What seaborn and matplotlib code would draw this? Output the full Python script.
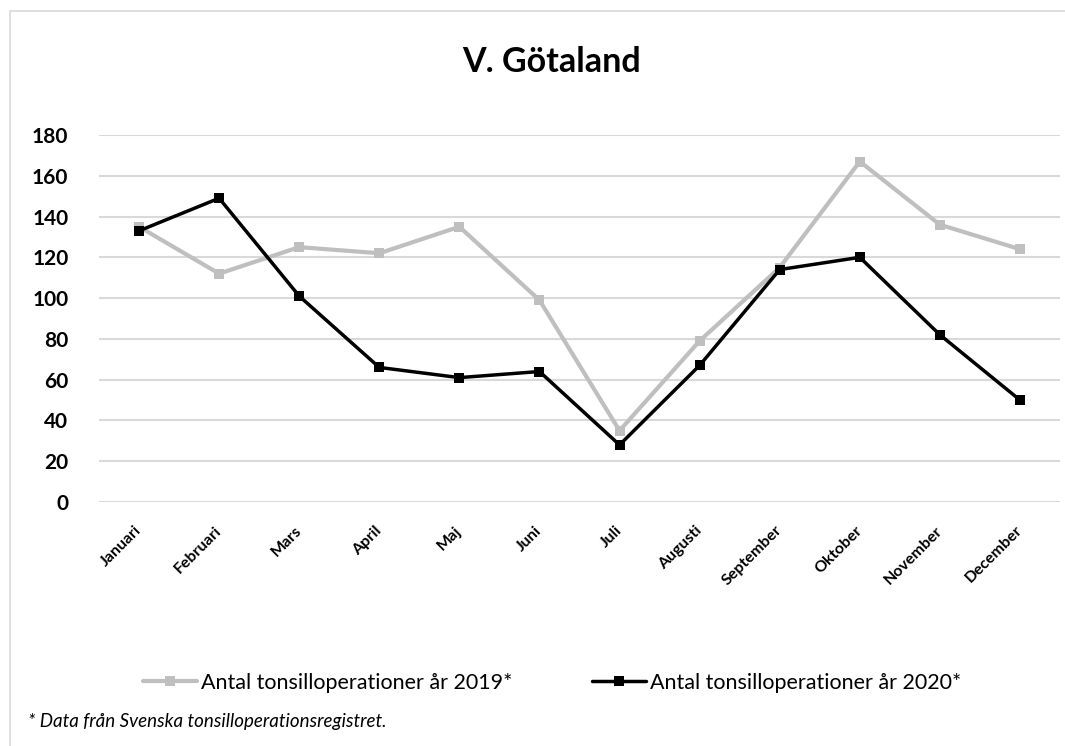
import matplotlib
matplotlib.use("Agg")
import matplotlib.pyplot as plt
from matplotlib.patches import Rectangle
import seaborn as sns
import pandas as pd

# data
months = ["Januari", "Februari", "Mars", "April", "Maj", "Juni", "Juli",
          "Augusti", "September", "Oktober", "November", "December"]
ops_2019 = [135, 112, 125, 122, 135, 99, 35, 79, 115, 167, 136, 124]
ops_2020 = [133, 149, 101, 66, 61, 64, 28, 67, 114, 120, 82, 50]
series_names = ["Antal tonsilloperationer år 2019*", "Antal tonsilloperationer år 2020*"]
yticks = [0, 20, 40, 60, 80, 100, 120, 140, 160, 180]

df = pd.DataFrame({
    "month": months * 2,
    "value": ops_2019 + ops_2020,
    "series": [series_names[0]] * 12 + [series_names[1]] * 12,
})
df["pos"] = list(range(12)) * 2

sns.set_style("white")
plt.rcParams["font.family"] = ["Lato", "DejaVu Sans"]
plt.rcParams["text.color"] = "black"
plt.rcParams["xtick.color"] = "black"
plt.rcParams["ytick.color"] = "black"

fig = plt.figure(figsize=(10.65, 7.46), dpi=100)
ax = fig.add_axes([99 / 1065, 1 - 502 / 746, (1060 - 99) / 1065, (502 - 135) / 746])

# light frame around chart area (cut off on right/bottom like the original)
fig.patches.append(Rectangle((10 / 1065, -0.1), 1.2, 1 - 11 / 746 + 0.1,
                             transform=fig.transFigure, fill=False,
                             edgecolor="#D9D9D9", linewidth=1.2))

pal = {series_names[0]: "#BFBFBF", series_names[1]: "#000000"}
for name, lw in [(series_names[0], 3.0), (series_names[1], 2.5)]:
    sub = df[df["series"] == name]
    sns.lineplot(data=sub, x="pos", y="value", color=pal[name], linewidth=lw,
                 marker="s", markersize=7, markeredgewidth=0, ax=ax,
                 label=name, legend=False)

ax.set_xlim(-0.5, 11.5)
ax.set_ylim(0, 180)
ax.set_yticks(yticks)
ax.set_yticklabels([str(t) for t in yticks], fontsize=15, fontweight="bold")
ax.set_xticks(range(12))
ax.set_xticklabels(months, fontsize=11.5, fontweight="bold",
                   rotation=45, ha="right", va="center", rotation_mode="anchor")
ax.tick_params(axis="y", length=0, pad=22)
ax.tick_params(axis="x", length=0, pad=19)
ax.set_xlabel("")
ax.set_ylabel("")
ax.grid(axis="y", color="#D9D9D9", linewidth=1.5)
ax.set_axisbelow(True)
sns.despine(ax=ax, left=True, bottom=True, top=True, right=True)

fig.text(552 / 1065, 1 - 62 / 746, "V. Götaland", ha="center", va="center",
         fontsize=24.5, fontweight="bold")

handles, labels = ax.get_legend_handles_labels()
fig.legend(handles, labels, loc="center", bbox_to_anchor=(552 / 1065, 1 - 683 / 746),
           ncol=2, frameon=False, fontsize=15.5, handlelength=2.5,
           handletextpad=0.2, columnspacing=3.7)

fig.text(28 / 1065, 1 - 721 / 746, "* Data från Svenska tonsilloperationsregistret.",
         ha="left", va="center", fontsize=13.5, style="italic")

fig.savefig("out.png", dpi=100)
